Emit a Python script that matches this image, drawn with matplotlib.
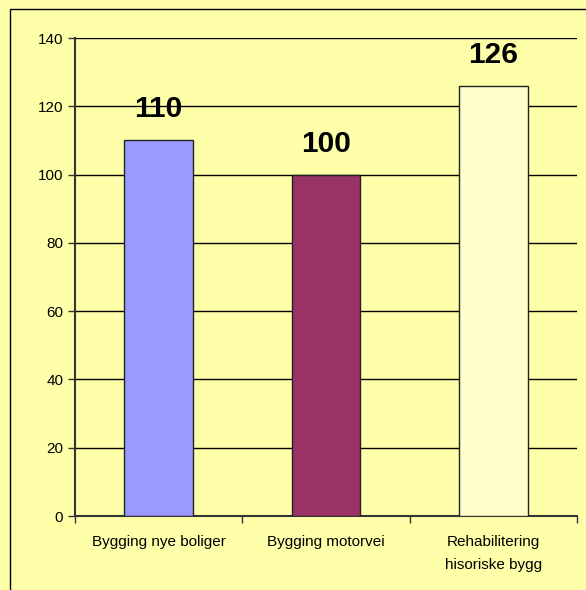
import matplotlib.pyplot as plt
from matplotlib.patches import Rectangle

# data
categories = ['Bygging nye boliger', 'Bygging motorvei', 'Rehabilitering\nhisoriske bygg']
values = [110, 100, 126]
bar_colors = ['#9999FF', '#993366', '#FFFFCC']

bg = '#FFFFAA'

fig = plt.figure(figsize=(5.86, 5.90), dpi=100, facecolor=bg)
ax = fig.add_axes([75 / 586, 74 / 590, 502 / 586, 478 / 590])
ax.set_facecolor(bg)

x = list(range(len(categories)))
bars = ax.bar(x, values, width=0.41, color=bar_colors, edgecolor='#222222', linewidth=1, zorder=3)

for b, v in zip(bars, values):
    ax.annotate(str(v), (b.get_x() + b.get_width() / 2, v), xytext=(0, 17),
                textcoords='offset pixels', ha='center', va='bottom',
                fontsize=21.5, fontweight='bold', family='Liberation Sans')

ax.set_xlim(-0.5, len(categories) - 0.5)
ax.set_ylim(0, 140)
ax.set_yticks(range(0, 141, 20))
ax.yaxis.grid(True, color='black', linewidth=1, zorder=0)
ax.set_axisbelow(True)

# ticks on category boundaries, labels at centres
ax.set_xticks([i - 0.5 for i in range(len(categories) + 1)])
ax.set_xticklabels([])
ax.set_xticks(x, minor=True)
ax.set_xticklabels(categories, minor=True, fontsize=11, family='Liberation Sans', linespacing=1.75)
ax.tick_params(axis='x', which='minor', length=0, pad=14)
ax.tick_params(axis='x', which='major', length=5, width=1, color='#333333')
ax.tick_params(axis='y', length=5, width=1, color='#333333', labelsize=11)
for lab in ax.get_yticklabels():
    lab.set_family('Liberation Sans')

for s in ['top', 'right']:
    ax.spines[s].set_visible(False)
for s in ['left', 'bottom']:
    ax.spines[s].set_color('#333333')
    ax.spines[s].set_linewidth(1.5)

# outer chart frame (only top and left edges visible)
fig.patches.append(Rectangle((10 / 586, -0.1), 1.2, 1 - 9 / 590 + 0.1, transform=fig.transFigure,
                             fill=False, edgecolor='black', linewidth=1))

fig.savefig('out.png', dpi=100, facecolor=bg)
